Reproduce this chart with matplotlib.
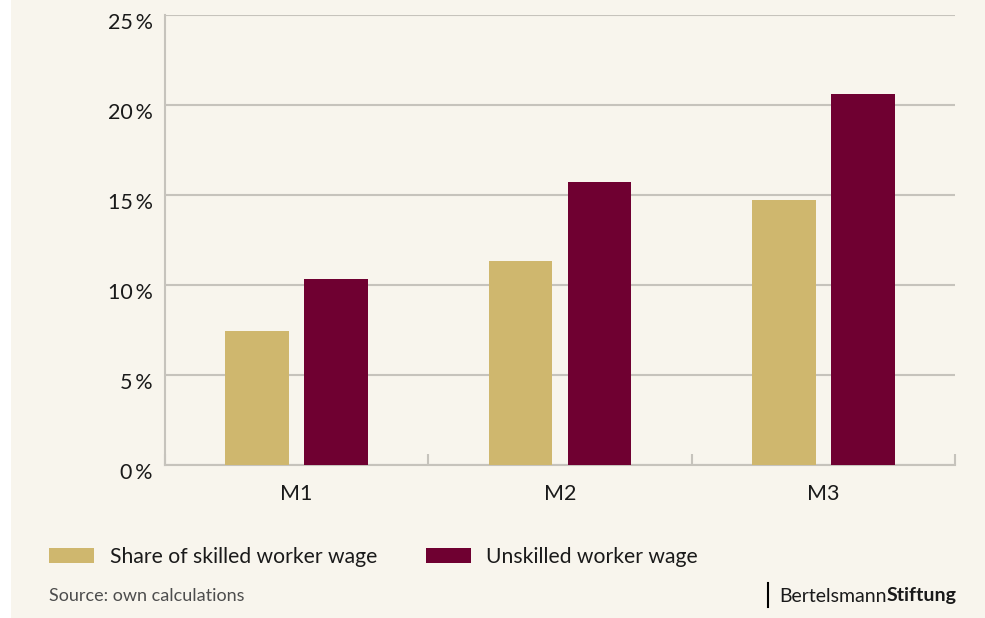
import matplotlib
matplotlib.use('Agg')
import matplotlib.pyplot as plt
from matplotlib.patches import Rectangle
from matplotlib.lines import Line2D
from matplotlib.transforms import ScaledTranslation
import numpy as np

plt.rcParams['font.family'] = ['Lato', 'DejaVu Sans']

categories = ['M1', 'M2', 'M3']
skilled_share = [7.44, 11.33, 14.72]
unskilled = [10.33, 15.72, 20.61]
series_names = ['Share of skilled worker wage', 'Unskilled worker wage']
y_ticks = [0, 5, 10, 15, 20, 25]

bg = '#f8f5ed'
gold = '#cfb76e'
maroon = '#6f0031'
grid_col = '#c6c3bc'

W, H = 985, 618
fig = plt.figure(figsize=(W / 100, H / 100), dpi=100, facecolor=bg)
# white margin on the left edge
fig.patches.append(Rectangle((0, 0), 11 / W, 1, transform=fig.transFigure,
                             facecolor='white', edgecolor='none', zorder=-1))

ax = fig.add_axes([165 / W, 1 - 465 / H, 790 / W, 450 / H])
ax.set_facecolor(bg)

x = np.arange(len(categories))
bw = 0.243
off = 0.15
ax.bar(x - off, skilled_share, bw, color=gold, label=series_names[0], zorder=3)
ax.bar(x + off, unskilled, bw, color=maroon, label=series_names[1], zorder=3)

ax.set_xlim(-0.5, len(categories) - 0.5)
ax.set_ylim(0, 25)
ax.set_yticks(y_ticks)
ax.set_yticklabels(['{}\u2009%'.format(v) for v in y_ticks])
ax.set_xticks(x)
ax.set_xticklabels(categories)
ax.set_xticks(np.arange(len(categories) + 1) - 0.5, minor=True)

ax.grid(axis='y', color=grid_col, linewidth=1.5, zorder=0)
ax.tick_params(axis='y', length=0, pad=9, labelsize=15.5, labelcolor='#1a1a1a')
ax.tick_params(axis='x', which='major', length=0, pad=14, labelsize=15.5,
               labelcolor='#1a1a1a')
ax.tick_params(axis='x', which='minor', direction='in', length=8, width=1.5,
               color=grid_col)

# y labels sit a little below their gridlines
shift = ScaledTranslation(0, -6 / 100, fig.dpi_scale_trans)
for lab in ax.get_yticklabels():
    lab.set_transform(lab.get_transform() + shift)

for s in ['top', 'right']:
    ax.spines[s].set_visible(False)
for s in ['left', 'bottom']:
    ax.spines[s].set_color(grid_col)
    ax.spines[s].set_linewidth(1.5)

ax.legend(loc='center left', bbox_to_anchor=(49 / W, 1 - 557 / H),
          bbox_transform=fig.transFigure, ncol=2, frameon=False,
          fontsize=15.2, handlelength=2.15, handleheight=0.75,
          handletextpad=0.72, columnspacing=2.3, borderpad=0,
          borderaxespad=0, labelcolor='#1a1a1a')

fig.text(49 / W, 1 - 596 / H, 'Source: own calculations', fontsize=13,
         color='#4d4d4d', va='center', ha='left')

# logo text
fig.canvas.draw()
r = fig.canvas.get_renderer()
t2 = fig.text(957 / W, 1 - 596 / H, 'Stiftung', fontsize=14, fontweight='bold',
              color='#1a1a1a', va='center', ha='right')
bb = t2.get_window_extent(renderer=r)
fig.text(bb.x0 / W, 1 - 596 / H, 'Bertelsmann', fontsize=14,
         color='#1a1a1a', va='center', ha='right')
fig.lines.append(Line2D([768 / W, 768 / W], [1 - 583 / H, 1 - 607 / H],
                        transform=fig.transFigure, color='black', linewidth=1.5))

fig.savefig('out.png', dpi=100, facecolor=bg)
